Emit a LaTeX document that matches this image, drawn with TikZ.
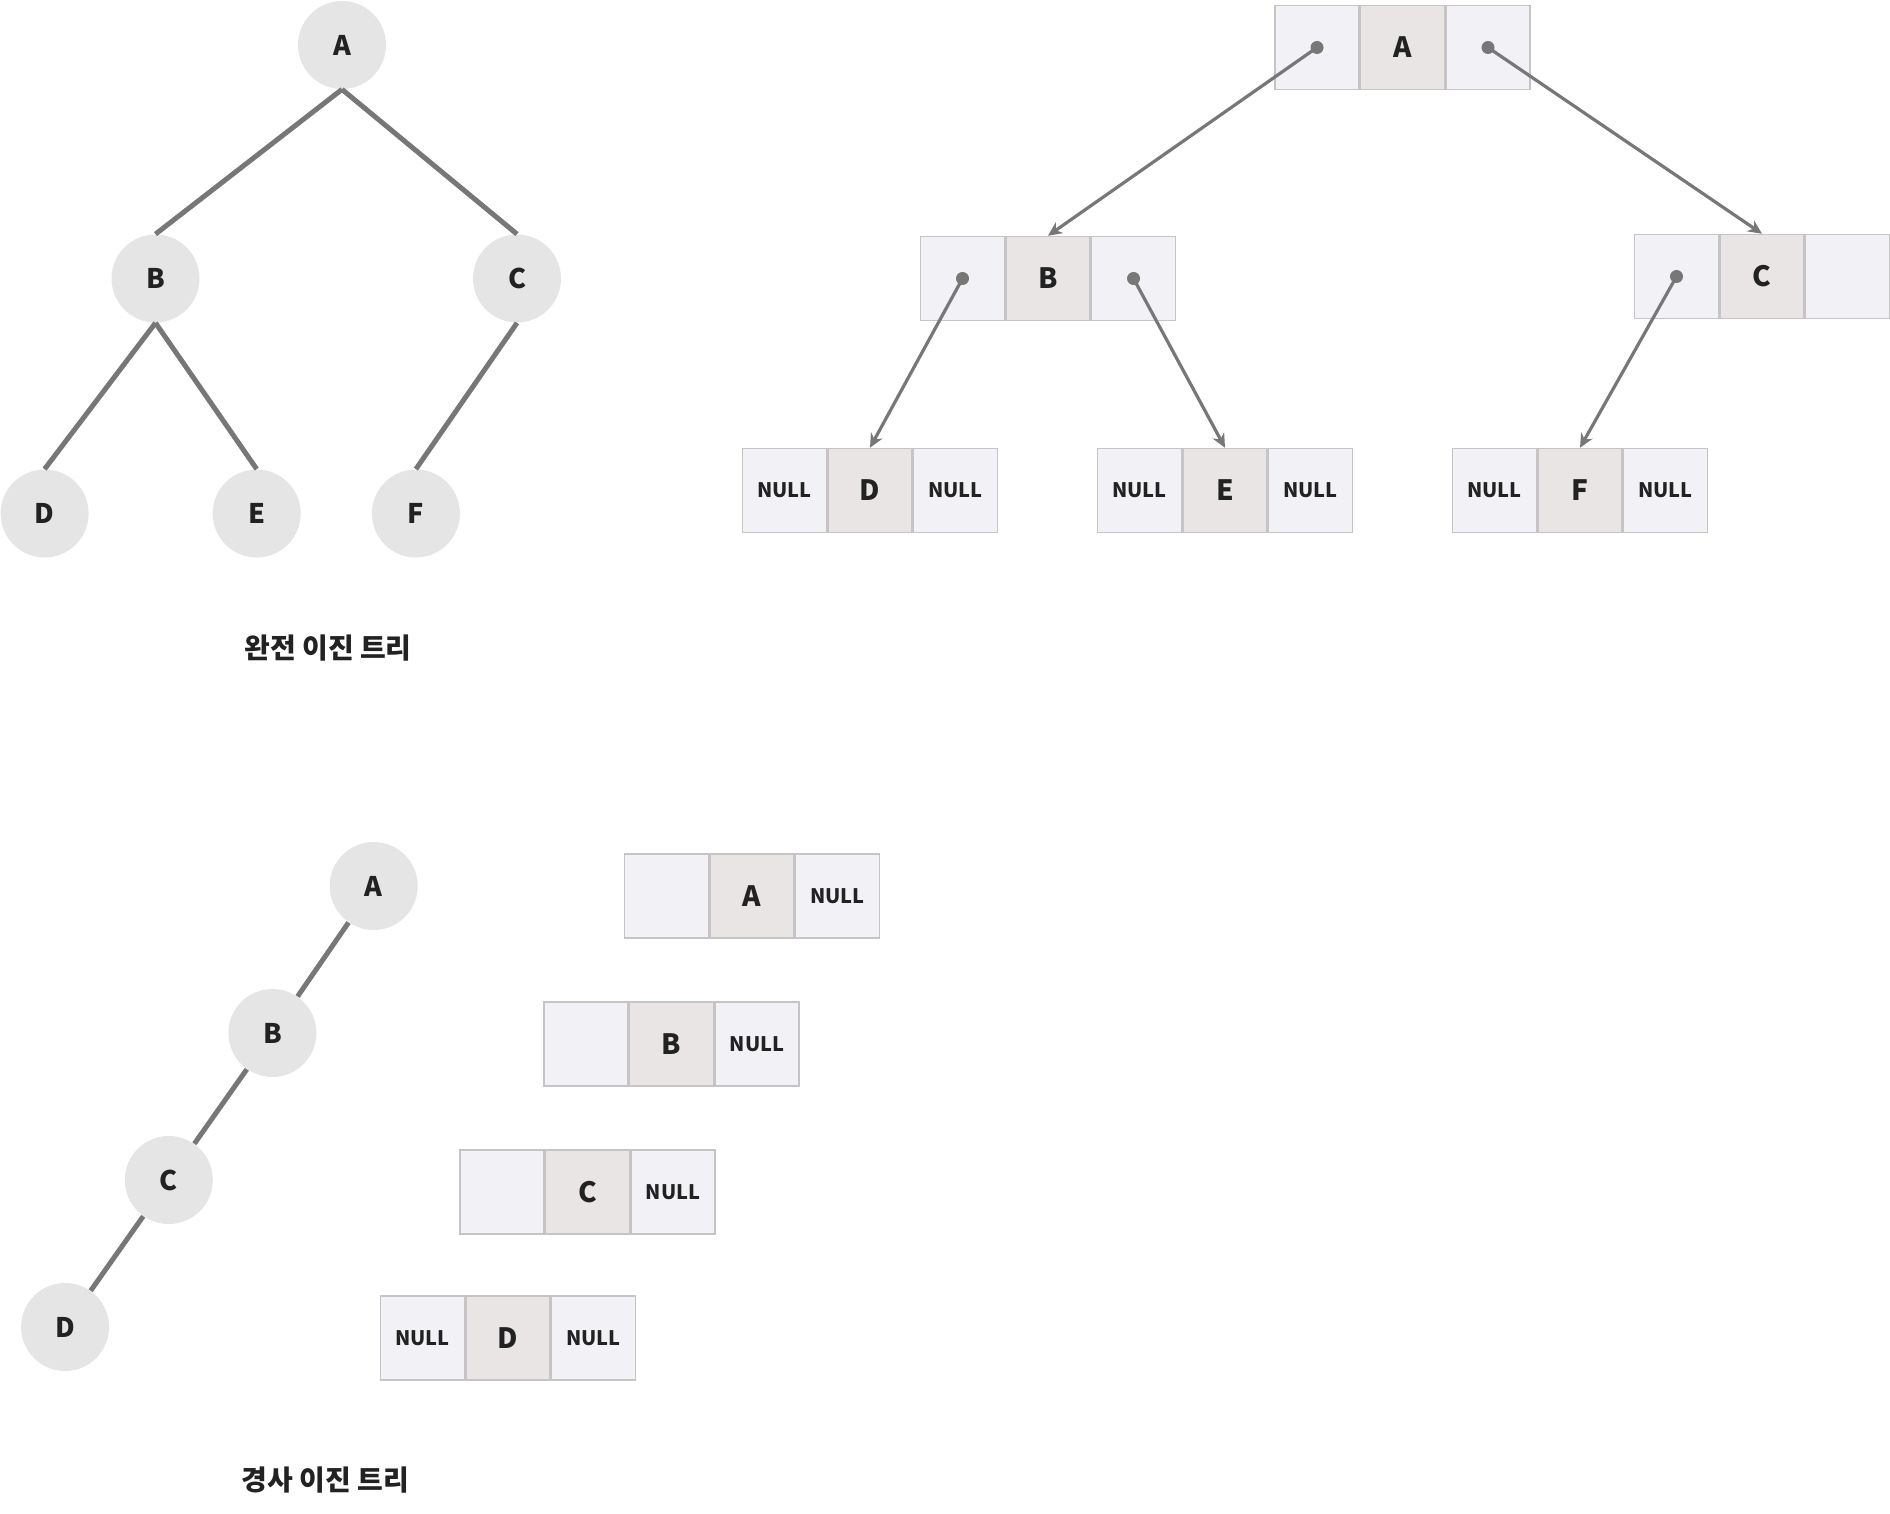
\documentclass[tikz,border=0pt]{standalone}
\usepackage{fontspec}
\setmainfont{Noto Sans CJK KR}
\usetikzlibrary{arrows.meta}
\definecolor{cellside}{HTML}{F2F1F6}
\definecolor{cellmid}{HTML}{E8E5E4}
\definecolor{cellline}{HTML}{C6C4C6}
\definecolor{circfill}{HTML}{E6E5E6}
\definecolor{edgecol}{HTML}{777777}
\definecolor{txt}{HTML}{222222}
\newcommand\mkrec[6]{%
 \node[midcell] (#1m) at (#2,#3) {#5};
 \node[sidecell,anchor=east] (#1l) at (#1m.west) {#4};
 \node[sidecell,anchor=west] (#1r) at (#1m.east) {#6};
}
\begin{document}
\begin{tikzpicture}[x=0.5pt,y=-0.5pt,
 tnode/.style={circle,fill=circfill,minimum size=44pt,inner sep=0pt,font=\bfseries\fontsize{13.5}{13.5}\selectfont,text=txt},
 tedge/.style={draw=edgecol,line width=2.5pt},
 sidecell/.style={rectangle,fill=cellside,draw=cellline,line width=0.75pt,minimum size=42pt,inner sep=0pt,font=\bfseries\fontsize{10}{10}\selectfont,text=txt},
 midcell/.style={sidecell,fill=cellmid,font=\bfseries\fontsize{14}{14}\selectfont},
 ptr/.style={draw=edgecol,line width=1.6pt,-{Stealth[length=7pt,width=6.5pt]}},
 dotc/.style={circle,fill=edgecol,inner sep=0pt,minimum size=6.5pt},
 title/.style={font=\bfseries\fontsize{14}{14}\selectfont,text=txt}]
\useasboundingbox (0,0) rectangle (1890,1514);
% full binary tree (circles)
\node[tnode] (cA) at (342,45) {A};
\node[tnode] (cB) at (155.5,278.5) {B};
\node[tnode] (cC) at (517,278.5) {C};
\node[tnode] (cD) at (44.6,513.5) {D};
\node[tnode] (cE) at (256.7,513.5) {E};
\node[tnode] (cF) at (415.9,513.5) {F};
\draw[tedge] (cA.south) -- (cB.north);
\draw[tedge] (cA.south) -- (cC.north);
\draw[tedge] (cB.south) -- (cD.north);
\draw[tedge] (cB.south) -- (cE.north);
\draw[tedge] (cC.south) -- (cF.north);
\node[title] (t1) at (328,648) {완전 이진 트리};
% full binary tree (records)
\mkrec{rA}{1402.5}{47.5}{}{A}{}
\mkrec{rB}{1048}{278.5}{}{B}{}
\mkrec{rC}{1762}{276.5}{}{C}{}
\mkrec{rD}{870}{490.5}{NULL}{D}{NULL}
\mkrec{rE}{1225}{490.5}{NULL}{E}{NULL}
\mkrec{rF}{1580}{490.5}{NULL}{F}{NULL}
\node[dotc] (dAl) at (rAl.center) {};
\node[dotc] (dAr) at (rAr.center) {};
\node[dotc] (dBl) at (rBl.center) {};
\node[dotc] (dBr) at (rBr.center) {};
\node[dotc] (dCl) at (rCl.center) {};
\draw[ptr] (dAl.center) -- (rBm.north);
\draw[ptr] (dAr.center) -- (rCm.north);
\draw[ptr] (dBl.center) -- (rDm.north);
\draw[ptr] (dBr.center) -- (rEm.north);
\draw[ptr] (dCl.center) -- (rFm.north);
% skewed tree (circles)
\node[tnode] (sA) at (373.7,886) {A};
\node[tnode] (sB) at (272.4,1033) {B};
\node[tnode] (sC) at (168.8,1180) {C};
\node[tnode] (sD) at (65.1,1327) {D};
\draw[tedge] (sA) -- (sB);
\draw[tedge] (sB) -- (sC);
\draw[tedge] (sC) -- (sD);
\node[title] (t2) at (325.5,1480) {경사 이진 트리};
% skewed tree (records)
\mkrec{qA}{752}{896}{}{A}{NULL}
\mkrec{qB}{671.5}{1044}{}{B}{NULL}
\mkrec{qC}{587.6}{1192}{}{C}{NULL}
\mkrec{qD}{508}{1338}{NULL}{D}{NULL}
\end{tikzpicture}
\end{document}
